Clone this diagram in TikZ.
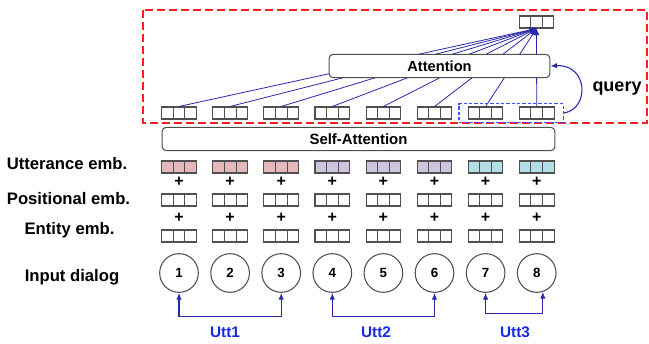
\documentclass[tikz,border=0pt]{standalone}
\usepackage{fontspec}
\setmainfont{Liberation Sans}
\usetikzlibrary{calc,arrows.meta,fit}
\definecolor{navy}{RGB}{40,40,170}
\definecolor{uttblue}{RGB}{20,40,230}
\definecolor{qblue}{RGB}{60,80,255}
\definecolor{redbox}{RGB}{250,30,30}
\definecolor{cpink}{RGB}{228,184,186}
\definecolor{cpurple}{RGB}{206,196,222}
\definecolor{ccyan}{RGB}{180,222,230}
\definecolor{edge}{RGB}{80,80,80}
\newcommand\cellsplit[1]{%
  \foreach \f in {1,2}{\draw[edge, line width=0.8pt]
    ($(#1.north west)!\f/3!(#1.north east)$) -- ($(#1.south west)!\f/3!(#1.south east)$);}}
\begin{document}
\begin{tikzpicture}[x=0.75pt,y=-0.75pt, font=\bfseries,
  vec/.style={draw=edge, line width=0.8pt, minimum width=26pt, minimum height=9pt, inner sep=0pt},
  bigbox/.style={draw=edge, line width=0.8pt, rounded corners=3pt, fill=white, inner sep=0pt},
  rowlabel/.style={font=\fontsize{12.5}{14}\selectfont\bfseries},
  plus/.style={font=\fontsize{12}{14}\selectfont\bfseries, inner sep=0pt},
  token/.style={draw=edge, line width=0.8pt, circle, minimum size=29pt, inner sep=0pt, font=\fontsize{10}{12}\selectfont\bfseries},
  conv/.style={navy, line width=0.6pt, -{Latex[length=5pt,width=4.5pt]}},
  uttarrow/.style={navy, line width=0.8pt, {Latex[length=5pt,width=4pt]}-{Latex[length=5pt,width=4pt]}},
  uttlabel/.style={text=uttblue, font=\fontsize{11.5}{13}\selectfont\bfseries}
]
\useasboundingbox (0,0) rectangle (649,343);

% red dashed region
\draw[redbox, line width=1.4pt, dash pattern=on 6pt off 3pt] (143,10) rectangle (647,123);

% row labels
\node[rowlabel] (lu) at (67,164) {Utterance emb.};
\node[rowlabel] (lp) at (68.5,199) {Positional emb.};
\node[rowlabel] (le) at (69.5,230) {Entity emb.};
\node[rowlabel] (li) at (72,277) {Input dialog};

% columns
\foreach \i/\c in {1/cpink,2/cpink,3/cpink,4/cpurple,5/cpurple,6/cpurple,7/ccyan,8/ccyan}{
  \pgfmathsetmacro\cx{179+51.1*(\i-1)}
  \node[vec] (t\i) at (\cx,113) {};
  \cellsplit{t\i}
  \node[vec, fill=\c] (u\i) at (\cx,167) {};
  \cellsplit{u\i}
  \node[plus] (pa\i) at (\cx,182) {+};
  \node[vec] (p\i) at (\cx,200) {};
  \cellsplit{p\i}
  \node[plus] (pb\i) at (\cx,218) {+};
  \node[vec] (e\i) at (\cx,236) {};
  \cellsplit{e\i}
  \node[token] (c\i) at (\cx,273) {\i};
}

% output vector
\node[vec] (out) at (536.5,22) {};
\cellsplit{out}

% attention lines
\foreach \i in {1,...,8}{
  \draw[conv] (t\i.north) -- (out.south);
}

% attention boxes
\node[bigbox, minimum width=165.5pt, minimum height=17.5pt, font=\fontsize{11}{13}\selectfont\bfseries] (att) at (439.5,66) {Attention};
\node[bigbox, minimum width=294.5pt, minimum height=17.5pt, font=\fontsize{11.2}{13}\selectfont\bfseries] (sa) at (358.5,139) {Self-Attention};

% query box and arrow
\node[draw=qblue, line width=0.9pt, dash pattern=on 2.5pt off 1.5pt, fit=(t7)(t8), inner xsep=6.5pt, inner ysep=2pt] (qbox) {};
\draw[navy, line width=0.8pt, -{Latex[length=5pt,width=4pt]}] (qbox.east) .. controls +(26,-4) and +(38,-2) .. (att.east);
\node[font=\fontsize{13.5}{15}\selectfont\bfseries] (q) at (617,89) {query};

% utterance brackets
\draw[uttarrow] (c1.south) -- ++(0,24) -| (c3.south);
\draw[uttarrow] (c4.south) -- ++(0,24) -| (c6.south);
\draw[uttarrow] (c7.south) -- ++(0,21) -| (c8.-72);
\node[uttlabel] (l1) at (225,332) {Utt1};
\node[uttlabel] (l2) at (376,332) {Utt2};
\node[uttlabel] (l3) at (515,332) {Utt3};
\end{tikzpicture}
\end{document}
